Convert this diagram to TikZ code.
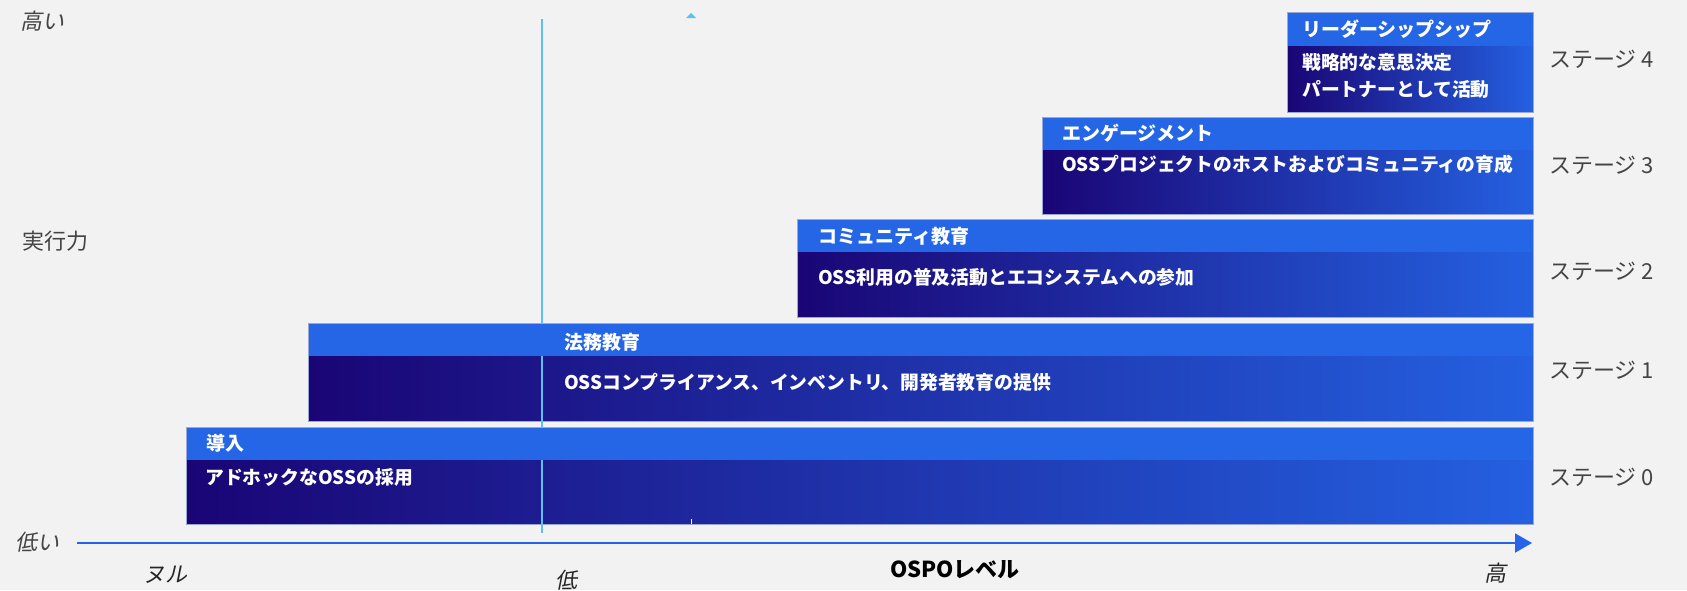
\documentclass[tikz,border=0pt]{standalone}
\usepackage{fontspec}
\setmainfont{Noto Sans CJK JP}
\newfontfamily\cjkit[FakeSlant=0.2]{Noto Sans CJK JP}
\usetikzlibrary{arrows.meta}
\definecolor{bg}{HTML}{F2F2F2}
\definecolor{hdr}{HTML}{2466E6}
\definecolor{navy}{HTML}{1A0575}
\definecolor{brt}{HTML}{2460E0}
\definecolor{axisblue}{HTML}{2563EB}
\definecolor{vline}{HTML}{5BC0EB}
\definecolor{lbl}{HTML}{444444}
\definecolor{edge}{HTML}{9AA8D8}
\begin{document}
\begin{tikzpicture}[x=1pt,y=-1pt,
  body/.style={left color=navy, right color=brt},
  hdrfill/.style={fill=hdr},
  boxedge/.style={draw=edge, line width=0.6pt},
  hdrtxt/.style={anchor=west, inner sep=0pt, text=white, font=\bfseries\fontsize{19}{22}\selectfont},
  bodytxt/.style={anchor=west, inner sep=0pt, text=white, font=\bfseries\fontsize{18.8}{22}\selectfont},
  stagetxt/.style={anchor=west, inner sep=0pt, text=lbl, font=\fontsize{22}{26}\selectfont},
  axtxt/.style={anchor=west, inner sep=0pt, text=lbl, font=\cjkit\fontsize{22}{26}\selectfont},
  xtxt/.style={anchor=west, inner sep=0pt, text=black!85, font=\cjkit\fontsize{22}{26}\selectfont}]
\useasboundingbox (0,0) rectangle (1687,590);
\fill[bg] (0,0) rectangle (1687,590);

% bodies
\shade[body] (186,460) rectangle (1533,524);
\shade[body] (308,356) rectangle (1533,421);
\shade[body] (797,252) rectangle (1533,317);
\shade[body] (1042,150) rectangle (1533,214);
\shade[body] (1287,46) rectangle (1533,112);

% vertical guide line
\coordinate (vtop) at (542,19);
\coordinate (vbot) at (542,533);
\draw[vline, line width=1.2pt] (vtop) -- (vbot);
% small marker
\fill[vline] (686,18) -- (691,13) -- (696,18) -- cycle;
\draw[white, line width=1pt] (691,519) -- (691,524);

% headers
\fill[hdrfill] (186,427) rectangle (1533,460);
\fill[hdrfill] (308,323) rectangle (1533,356);
\fill[hdrfill] (797,219) rectangle (1533,252);
\fill[hdrfill] (1042,117) rectangle (1533,150);
\fill[hdrfill] (1287,12) rectangle (1533,46);

% edges
\draw[boxedge] (186,427) rectangle (1533,524);
\draw[boxedge] (308,323) rectangle (1533,421);
\draw[boxedge] (797,219) rectangle (1533,317);
\draw[boxedge] (1042,117) rectangle (1533,214);
\draw[boxedge] (1287,12) rectangle (1533,112);

% texts
\node[hdrtxt] (h4) at (1302,29) {リーダーシップシップ};
\node[bodytxt] (b4a) at (1302,62) {戦略的な意思決定};
\node[bodytxt] (b4b) at (1302,89) {パートナーとして活動};
\node[hdrtxt] (h3) at (1062,133) {エンゲージメント};
\node[bodytxt] (b3) at (1062,164) {OSSプロジェクトのホストおよびコミュニティの育成};
\node[hdrtxt] (h2) at (818,236) {コミュニティ教育};
\node[bodytxt] (b2) at (818,277) {OSS利用の普及活動とエコシステムへの参加};
\node[hdrtxt] (h1) at (564,342) {法務教育};
\node[bodytxt] (b1) at (564,382) {OSSコンプライアンス、インベントリ、開発者教育の提供};
\node[hdrtxt] (h0) at (206,443) {導入};
\node[bodytxt] (b0) at (205,477) {アドホックなOSSの採用};

% stage labels
\node[stagetxt] (s4) at (1549,59) {ステージ 4};
\node[stagetxt] (s3) at (1549,165) {ステージ 3};
\node[stagetxt] (s2) at (1549,271) {ステージ 2};
\node[stagetxt] (s1) at (1549,370) {ステージ 1};
\node[stagetxt] (s0) at (1549,477) {ステージ 0};

% axis
\coordinate (ax0) at (77,543);
\coordinate (ax1) at (1532,543);
\draw[axisblue, line width=2pt, -{Triangle[length=17pt,width=19pt]}] (ax0) -- (ax1);

% axis labels
\node[axtxt] (hi) at (20,21) {高い};
\node[stagetxt] (ex) at (22,241) {実行力};
\node[axtxt] (lo) at (15,542) {低い};
\node[xtxt] (null) at (143,575) {ヌル};
\node[xtxt] (low) at (555,580) {低};
\node[anchor=west, inner sep=0pt, font=\bfseries\fontsize{22}{26}\selectfont] (ospo) at (890,570) {OSPOレベル};
\node[xtxt] (high) at (1484,573) {高};
\end{tikzpicture}
\end{document}
